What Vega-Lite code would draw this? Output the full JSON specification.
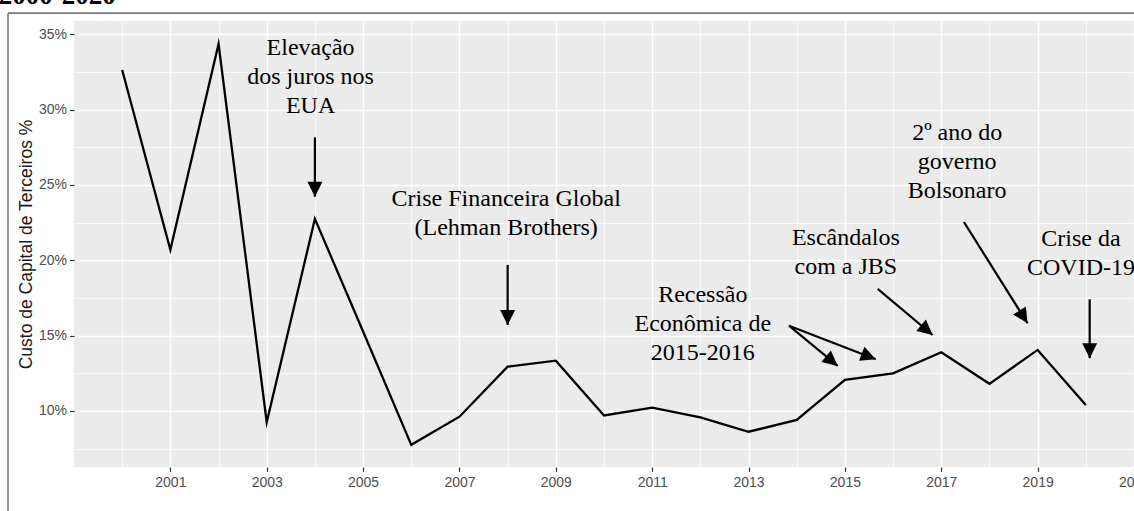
{
  "$schema": "https://vega.github.io/schema/vega-lite/v6.json",
  "autosize": {"type": "none"},
  "width": 1060,
  "height": 446,
  "padding": {"left": 74, "top": 21, "right": 0, "bottom": 44},
  "background": "white",
  "config": {
    "view": {"fill": "#EBEBEB", "stroke": null},
    "axis": {"labelFont": "Liberation Sans", "titleFont": "Liberation Sans"}
  },
  "datasets": {
    "series": [
      {"year": 2000, "value": 32.63},
      {"year": 2001, "value": 20.7},
      {"year": 2002, "value": 34.35},
      {"year": 2003, "value": 9.25},
      {"year": 2004, "value": 22.75},
      {"year": 2005, "value": 15.27},
      {"year": 2006, "value": 7.75},
      {"year": 2007, "value": 9.62},
      {"year": 2008, "value": 12.94},
      {"year": 2009, "value": 13.34},
      {"year": 2010, "value": 9.7},
      {"year": 2011, "value": 10.22},
      {"year": 2012, "value": 9.58},
      {"year": 2013, "value": 8.62},
      {"year": 2014, "value": 9.4},
      {"year": 2015, "value": 12.06},
      {"year": 2016, "value": 12.5},
      {"year": 2017, "value": 13.9},
      {"year": 2018, "value": 11.8},
      {"year": 2019, "value": 14.05},
      {"year": 2020, "value": 10.4}
    ],
    "notes": [
      {"label": "Elevação\ndos juros nos\nEUA", "x": 2003.91, "y": 34.09},
      {"label": "Crise Financeira Global\n(Lehman Brothers)", "x": 2007.97, "y": 24.05},
      {"label": "Recessão\nEconômica de\n2015-2016", "x": 2012.05, "y": 17.7},
      {"label": "Escândalos\ncom a JBS", "x": 2015.02, "y": 21.46},
      {"label": "2º ano do\ngoverno\nBolsonaro", "x": 2017.33, "y": 28.45},
      {"label": "Crise da\nCOVID-19", "x": 2019.9, "y": 21.39}
    ],
    "arrows": [
      {"x": 2004.0, "y": 28.16, "x2": 2004.0, "y2": 24.22},
      {"x": 2008.0, "y": 19.69, "x2": 2008.0, "y2": 15.71},
      {"x": 2013.84, "y": 15.66, "x2": 2014.85, "y2": 12.99},
      {"x": 2013.84, "y": 15.66, "x2": 2015.64, "y2": 13.43},
      {"x": 2015.68, "y": 18.1, "x2": 2016.82, "y2": 15.04},
      {"x": 2017.47, "y": 22.54, "x2": 2018.79, "y2": 15.82},
      {"x": 2020.08, "y": 17.41, "x2": 2020.08, "y2": 13.5}
    ]
  },
  "resolve": {"axis": {"x": "independent", "y": "independent"}},
  "layer": [
    {
      "data": {"name": "series"},
      "mark": {"type": "line", "strokeOpacity": 0},
      "encoding": {
        "x": {
          "field": "year", "type": "quantitative",
          "scale": {"domain": [1999, 2021], "nice": false, "zero": false},
          "axis": {
            "orient": "top", "values": [2000, 2002, 2004, 2006, 2008, 2010, 2012, 2014, 2016, 2018, 2020],
            "grid": true, "gridColor": "white", "gridWidth": 0.7,
            "labels": false, "ticks": false, "domain": false, "title": null
          }
        },
        "y": {
          "field": "value", "type": "quantitative",
          "scale": {"domain": [6.28, 35.88], "nice": false, "zero": false},
          "axis": {
            "orient": "right", "values": [7.5, 12.5, 17.5, 22.5, 27.5, 32.5],
            "grid": true, "gridColor": "white", "gridWidth": 0.7,
            "labels": false, "ticks": false, "domain": false, "title": null
          }
        }
      }
    },
    {
      "data": {"values": [{}]},
      "mark": {"type": "rule", "color": "#7A7A7A", "strokeWidth": 1.6},
      "encoding": {
        "x": {"datum": 1997.63, "type": "quantitative", "axis": null},
        "x2": {"datum": 2021},
        "y": {"datum": 36.4, "type": "quantitative", "axis": null}
      }
    },
    {
      "data": {"values": [{}]},
      "mark": {"type": "rule", "color": "#7A7A7A", "strokeWidth": 1.6},
      "encoding": {
        "x": {"datum": 1997.63, "type": "quantitative", "axis": null},
        "y": {"datum": 36.4, "type": "quantitative", "axis": null},
        "y2": {"datum": -5}
      }
    },
    {
      "data": {"name": "series"},
      "mark": {"type": "line", "color": "black", "strokeWidth": 2.3, "strokeJoin": "miter", "strokeMiterLimit": 10},
      "encoding": {
        "x": {
          "field": "year", "type": "quantitative",
          "axis": {
            "orient": "bottom", "values": [2001, 2003, 2005, 2007, 2009, 2011, 2013, 2015, 2017, 2019, 2021],
            "format": "d", "grid": true, "gridColor": "white", "gridWidth": 1.4,
            "domain": false, "tickColor": "#333333", "tickSize": 4.5, "tickWidth": 1.2,
            "labelFontSize": 14, "labelColor": "#4D4D4D", "labelPadding": 4,
            "labelFlush": false, "labelOverlap": false, "labelBound": false, "title": null
          }
        },
        "y": {
          "field": "value", "type": "quantitative",
          "axis": {
            "orient": "left", "values": [10, 15, 20, 25, 30, 35],
            "labelExpr": "datum.value + '%'",
            "grid": true, "gridColor": "white", "gridWidth": 1.4,
            "domain": false, "tickColor": "#333333", "tickSize": 4.5, "tickWidth": 1.2,
            "labelFontSize": 14, "labelColor": "#4D4D4D", "labelPadding": 3,
            "title": "Custo de Capital de Terceiros %", "titleFontSize": 17.5,
            "titleFontWeight": "normal", "titleColor": "#1A1A1A", "titlePadding": 3
          }
        }
      }
    },
    {
      "data": {"name": "arrows"},
      "mark": {"type": "rule", "color": "black", "strokeWidth": 2.2},
      "encoding": {
        "x": {"field": "x", "type": "quantitative", "axis": null},
        "y": {"field": "y", "type": "quantitative", "axis": null},
        "x2": {"field": "x2"},
        "y2": {"field": "y2"}
      }
    },
    {
      "data": {"name": "arrows"},
      "transform": [
        {"calculate": "atan2((datum.x2 - datum.x) * 48.18, (datum.y2 - datum.y) * 15.07) * 180 / PI", "as": "angle"}
      ],
      "mark": {"type": "point", "shape": "M0,0L-0.5,1L0.5,1Z", "size": 900, "filled": true, "color": "black", "opacity": 1, "strokeWidth": 0},
      "encoding": {
        "x": {"field": "x2", "type": "quantitative", "axis": null},
        "y": {"field": "y2", "type": "quantitative", "axis": null},
        "angle": {"field": "angle", "type": "quantitative", "scale": null}
      }
    },
    {
      "data": {"name": "notes"},
      "mark": {"type": "text", "font": "Liberation Serif", "fontSize": 24, "lineHeight": 29, "lineBreak": "\n", "align": "center", "baseline": "middle", "color": "black"},
      "encoding": {
        "x": {"field": "x", "type": "quantitative", "axis": null},
        "y": {"field": "y", "type": "quantitative", "axis": null},
        "text": {"field": "label", "type": "nominal"}
      }
    },
    {
      "data": {"values": [{"t": "2000-2020"}]},
      "mark": {"type": "text", "font": "Liberation Serif", "fontSize": 27, "fontWeight": "bold", "color": "black", "align": "left", "baseline": "alphabetic"},
      "encoding": {
        "x": {"datum": 1997.44, "type": "quantitative", "axis": null},
        "y": {"datum": 37.01, "type": "quantitative", "axis": null},
        "text": {"field": "t", "type": "nominal"}
      }
    }
  ]
}
